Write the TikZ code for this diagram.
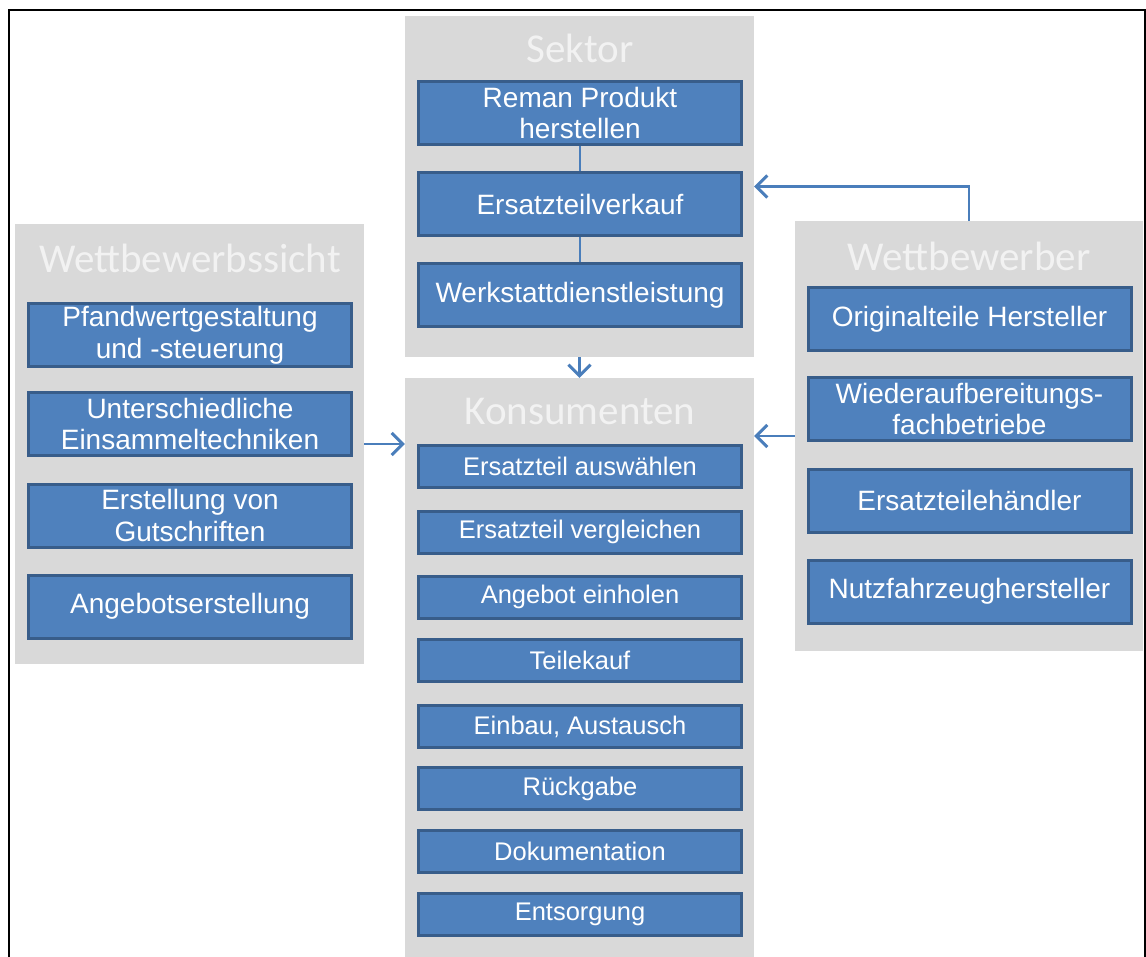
\documentclass[tikz,border=0pt]{standalone}
\usepackage{fontspec}
\setmainfont{Liberation Sans}
\newfontfamily\titlefont{Carlito}
\usetikzlibrary{arrows.meta}

\definecolor{panelgray}{HTML}{D9D9D9}
\definecolor{boxblue}{HTML}{4F81BD}
\definecolor{boxedge}{HTML}{385D8A}
\definecolor{linkblue}{HTML}{4A7EBB}

\begin{document}
\begin{tikzpicture}
[
	x=1pt, y=-1pt,
	panel/.style={fill=panelgray,inner sep=0pt},
	ptitle/.style={text=white!95!black,font=\titlefont\fontsize{41}{41}\selectfont,inner sep=0pt},
	box/.style={draw=boxedge,line width=3pt,fill=boxblue,text=white,inner sep=0pt,
		minimum width=323pt,align=center},
	twoline/.style={box,minimum height=63pt,font=\fontsize{28}{31.5}\selectfont},
	oneline/.style={box,minimum height=42pt,font=\fontsize{25.5}{30}\selectfont},
	link/.style={draw=linkblue,line width=2.5pt},
	arrow/.style={link,-{Straight Barb[length=11pt,width=22pt,line width=3pt]}}
]

	\useasboundingbox (0,0) rectangle (1146,957);
	\clip (0,0) rectangle (1146,957);

	% frame
	\draw[line width=2pt] (9,975) -- (9,10) -- (1145,10) -- (1145,975);

	% panels
	\node[panel,minimum width=349pt,minimum height=341pt] (sektor) at (579.5,186.5) {};
	\node[panel,minimum width=349pt,minimum height=600pt] (kons) at (579.5,678) {};
	\node[panel,minimum width=349pt,minimum height=440pt] (wsicht) at (189.5,444) {};
	\node[panel,minimum width=348pt,minimum height=430pt] (wbewerber) at (969,436) {};

	% titles
	\node[ptitle] (tsektor) at (580,48) {Sektor};
	\node[ptitle] (tkons) at (580,411) {Konsumenten};
	\node[ptitle] (twsicht) at (190,258) {Wettbewerbssicht};
	\node[ptitle] (twbewerber) at (969,256) {Wettbewerber};

	% Sektor
	\node[twoline] (reman) at (580,113) {Reman Produkt\\herstellen};
	\node[twoline] (verkauf) at (580,204) {Ersatzteilverkauf};
	\node[twoline] (werkstatt) at (580,295) {Werkstattdienstleistung};
	\draw[link,line width=2pt] (reman) -- (verkauf);
	\draw[link,line width=2pt] (verkauf) -- (werkstatt);

	% Konsumenten
	\node[oneline] (auswahl) at (580,466.5) {Ersatzteil auswählen};
	\node[oneline] (vergleich) at (580,532) {Ersatzteil vergleichen};
	\node[oneline] (angebot) at (580,597) {Angebot einholen};
	\node[oneline] (kauf) at (580,660) {Teilekauf};
	\node[oneline] (einbau) at (580,726.5) {Einbau, Austausch};
	\node[oneline] (rueckgabe) at (580,788.5) {Rückgabe};
	\node[oneline] (doku) at (580,851) {Dokumentation};
	\node[oneline] (entsorgung) at (580,914) {Entsorgung};

	% Wettbewerbssicht
	\node[twoline] (pfand) at (190,335.5) {Pfandwertgestaltung\\und -steuerung};
	\node[twoline] (einsammeln) at (190,424) {Unterschiedliche\\Einsammeltechniken};
	\node[twoline] (gutschrift) at (190,515.5) {Erstellung von\\Gutschriften};
	\node[twoline] (angerst) at (190,606.5) {Angebotserstellung};

	% Wettbewerber
	\node[twoline] (original) at (969.5,319) {Originalteile Hersteller};
	\node[twoline] (wieder) at (969.5,409) {Wiederaufbereitungs-\\fachbetriebe};
	\node[twoline] (haendler) at (969.5,500.5) {Ersatzteilehändler};
	\node[twoline] (nfz) at (969.5,591.5) {Nutzfahrzeughersteller};

	% arrows
	\draw[arrow] (sektor.south) -- (kons.north);
	\draw[arrow] (wsicht.east) -- (wsicht.east -| kons.west);
	\draw[arrow] (wbewerber.west) -- (wbewerber.west -| kons.east);
	\draw[arrow] (wbewerber.north) |- (sektor.east);

\end{tikzpicture}
\end{document}
